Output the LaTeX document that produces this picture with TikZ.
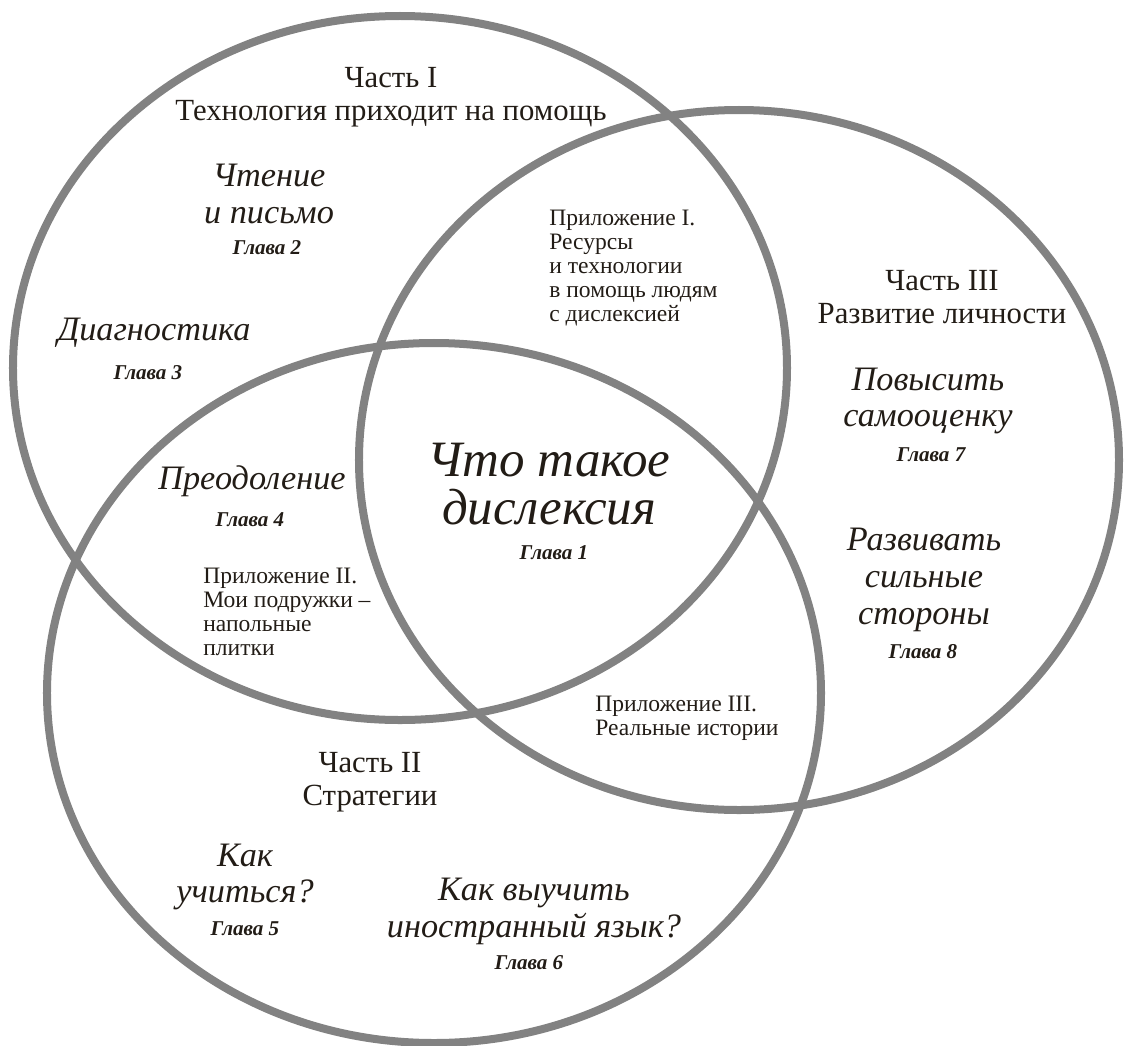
\documentclass[tikz,border=0pt]{standalone}
\usepackage{fontspec}
\setmainfont{Liberation Serif}
\usepackage{xcolor}
\usepackage{tikz}
\definecolor{ringgray}{RGB}{130,130,130}
\definecolor{inkdark}{RGB}{34,28,22}
\tikzset{
  ring/.style={draw=ringgray, line width=1.6mm},
  part/.style={font=\fontsize{17.5}{19}\selectfont, align=center, inner sep=0pt, text=inkdark},
  topic/.style={font=\fontsize{19.5}{21}\selectfont\itshape, align=center, inner sep=0pt, text=inkdark},
  core/.style={font=\fontsize{29}{27}\selectfont\itshape, align=center, inner sep=0pt, text=inkdark},
  chap/.style={font=\fontsize{12}{13}\selectfont\bfseries\itshape, inner sep=0pt, text=inkdark},
  appx/.style={font=\fontsize{13.4}{13.7}\selectfont, align=left, anchor=west, inner sep=0pt, text=inkdark}
}

\begin{document}
\begin{tikzpicture}[x=0.2mm, y=-0.2mm]
		\useasboundingbox (0,0) rectangle (1125,1046);

		% the three parts
		\draw [ring] (400,368) ellipse [x radius=77.4mm, y radius=70.4mm];
		\draw [ring] (739,460) ellipse [x radius=76mm, y radius=70mm];
		\draw [ring] (434,693) ellipse [x radius=77.4mm, y radius=70mm];

		% part I
		\path (391,97) node [part] (partI) {Часть I\\Технология приходит на помощь};
		\path (269,194) node [topic] (read) {Чтение\\и письмо};
		\path (read) ++(-2,54) node [chap] (ch2) {Глава 2};
		\path (154,333) node [topic] (diag) {Диагностика};
		\path (diag) ++(-6,40) node [chap] (ch3) {Глава 3};
		\path (549,268) node [appx] (appI) {Приложение I.\\Ресурсы\\и технологии\\в помощь людям\\с дислексией};

		% part III
		\path (942,297) node [part] (partIII) {Часть III\\Развитие личности};
		\path (928,401) node [topic] (esteem) {Повысить\\самооценку};
		\path (esteem) ++(3,54) node [chap] (ch7) {Глава 7};
		\path (924,580) node [topic] (strong) {Развивать\\сильные\\стороны};
		\path (strong) ++(-1,72) node [chap] (ch8) {Глава 8};

		% centre
		\path (549,484) node [core] (what) {Что такое\\дислексия};
		\path (what) ++(5,69) node [chap] (ch1) {Глава 1};
		\path (252,481) node [topic] (over) {Преодоление};
		\path (over) ++(-2,39) node [chap] (ch4) {Глава 4};
		\path (203,612) node [appx] (appII) {Приложение II.\\Мои подружки --\\напольные\\плитки};
		\path (595,718) node [appx] (appIII) {Приложение III.\\Реальные истории};

		% part II
		\path (370,782) node [part] (partII) {Часть II\\Стратегии};
		\path (245,877) node [topic] (learn) {Как\\учиться?};
		\path (learn) ++(0,52) node [chap] (ch5) {Глава 5};
		\path (534,911) node [topic] (lang) {Как выучить\\иностранный язык?};
		\path (lang) ++(-5,52) node [chap] (ch6) {Глава 6};
	\end{tikzpicture}
\end{document}
